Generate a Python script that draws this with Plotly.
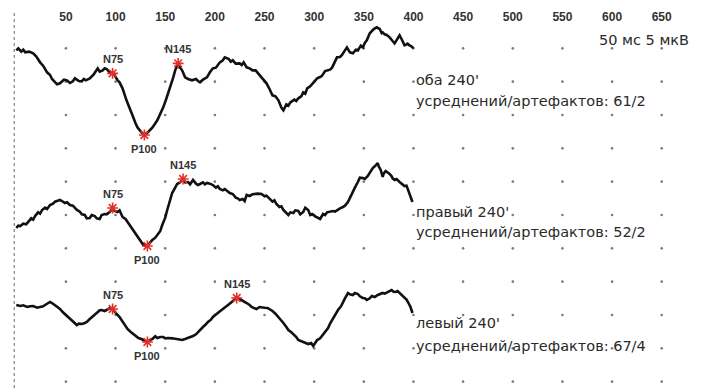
import plotly.graph_objects as go

# Time axis (ms) and amplitude grid (µV), negative polarity drawn upward
tick_ms = [50, 100, 150, 200, 250, 300, 350, 400, 450, 500, 550, 600, 650]
grid_rows_uv = [5, 10, 15, 20, 25, 30, 35, 40, 45, 50, 55]

# Trace 1: оба 240'
t1_ms = [0, 2, 5, 7, 9, 13, 17, 20, 24, 27, 31, 34, 36, 39, 41, 44, 46, 48, 51, 54, 57, 59, 61, 63,
         66, 68, 70, 74, 78, 80, 82, 84, 87, 89, 91, 94, 97, 99, 102, 104, 107, 111, 114, 117, 120,
         122, 126, 129, 133, 137, 142, 145, 148, 151, 155, 158, 160, 163, 165, 167, 170, 173, 177,
         181, 183, 185, 188, 192, 195, 198, 201, 205, 208, 210, 214, 216, 218, 221, 225, 227, 229,
         232, 235, 238, 241, 245, 248, 252, 255, 258, 261, 264, 267, 269, 272, 274, 276, 280, 282,
         284, 287, 289, 291, 293, 296, 298, 301, 303, 306, 308, 311, 313, 316, 318, 321, 323, 326,
         328, 331, 333, 336, 339, 342, 344, 347, 349, 351, 353, 356, 358, 360, 363, 366, 368, 369,
         371, 373, 376, 378, 379, 381, 384, 386, 388, 389, 391, 393, 394, 396, 398, 400]
t1_uv = [0.3, 0.0, 0.5, 0.2, 0.6, 0.5, 0.75, 1.2, 2.1, 2.6, 3.6, 4.0, 4.6, 5.1, 5.4, 5.25, 4.9, 4.7,
         4.8, 5.2, 4.95, 4.5, 4.7, 4.9, 4.95, 4.6, 4.8, 4.5, 3.9, 3.4, 3.0, 3.5, 3.3, 3.0, 3.1, 3.6,
         3.75, 4.0, 4.8, 5.1, 6.0, 7.8, 8.8, 10.05, 11.2, 11.85, 12.6, 13.0, 12.5, 11.9, 10.8, 9.9,
         8.85, 7.6, 5.85, 4.4, 3.3, 2.25, 2.9, 3.3, 4.35, 4.6, 4.8, 4.6, 4.9, 5.1, 4.7, 4.35, 3.6,
         3.0, 2.9, 2.1, 1.8, 1.35, 1.6, 2.0, 1.8, 2.3, 2.25, 2.5, 2.1, 2.85, 3.0, 3.3, 3.3, 4.05,
         4.6, 5.25, 6.1, 7.05, 7.2, 7.8, 8.9, 9.3, 8.4, 8.6, 8.1, 7.7, 7.9, 7.5, 7.2, 6.6, 6.8, 6.0,
         5.7, 5.4, 4.8, 4.5, 4.3, 4.1, 3.4, 3.3, 3.2, 2.9, 2.0, 1.35, 1.3, 1.0, 0.3, -0.15, 0.6,
         0.75, 0.2, 0.3, -0.4, -0.15, -0.8, -1.2, -2.25, -2.6, -2.9, -3.15, -2.9, -2.3, -2.4, -2.1,
         -2.0, -1.65, -1.2, -1.1, -0.75, -1.5, -1.95, -1.4, -1.1, -0.45, -0.6, -0.7, -0.45, -0.3,
         0.0]

# Trace 2: правый 240'
t2_ms = [0, 2, 4, 7, 10, 12, 15, 17, 19, 22, 24, 26, 29, 31, 34, 37, 39, 41, 44, 46, 49, 51, 54,
         57, 59, 61, 64, 66, 69, 71, 74, 76, 79, 81, 84, 86, 89, 91, 94, 97, 99, 102, 104, 107, 110,
         112, 115, 118, 120, 123, 126, 128, 132, 135, 137, 140, 142, 145, 147, 150, 152, 155, 157,
         160, 162, 165, 168, 170, 173, 175, 178, 181, 183, 185, 188, 190, 192, 195, 198, 201, 203,
         205, 208, 210, 212, 215, 218, 221, 223, 225, 228, 230, 232, 235, 238, 240, 243, 247, 250,
         252, 255, 258, 260, 262, 265, 267, 269, 271, 274, 276, 279, 281, 284, 286, 289, 291, 294,
         296, 298, 301, 304, 306, 309, 311, 313, 316, 319, 321, 323, 326, 329, 331, 334, 336, 339,
         341, 344, 346, 349, 351, 354, 356, 359, 361, 364, 365, 367, 369, 370, 372, 374, 376, 378,
         379, 381, 383, 386, 388, 391, 393, 396, 398, 399]
t2_uv = [6.95, 6.6, 6.65, 6.3, 6.4, 6.05, 5.5, 5.7, 5.15, 4.6, 4.8, 4.25, 3.9, 4.1, 3.5, 3.3, 3.0,
         2.9, 2.75, 2.9, 3.2, 3.1, 3.5, 3.6, 4.0, 4.25, 4.5, 4.9, 5.0, 5.5, 5.45, 5.0, 5.15, 5.5,
         5.6, 5.0, 4.85, 4.9, 4.55, 3.95, 4.4, 4.55, 4.3, 5.3, 5.6, 6.05, 6.7, 7.25, 7.9, 8.45, 9.1,
         9.5, 9.65, 9.0, 8.75, 8.4, 8.0, 7.4, 6.5, 5.4, 4.25, 2.9, 1.7, 0.9, 0.35, 0.1, -0.4, 0.1,
         0.05, 0.4, -0.25, 0.3, 0.5, 0.35, 0.1, 0.4, 0.2, 0.3, 0.5, 0.9, 0.7, 1.1, 1.3, 1.1, 1.4,
         1.7, 1.85, 2.4, 2.5, 2.75, 2.6, 2.9, 2.0, 2.15, 1.9, 1.85, 1.8, 1.85, 2.2, 2.1, 2.6, 3.0,
         2.8, 3.35, 3.8, 3.7, 4.25, 4.6, 5.0, 4.6, 4.7, 4.3, 4.4, 4.9, 4.55, 3.9, 4.25, 5.0, 4.85,
         5.2, 5.45, 5.6, 4.85, 5.0, 4.6, 4.55, 4.4, 4.5, 4.25, 4.0, 3.8, 3.6, 3.05, 2.5, 1.55, 0.9,
         0.05, -0.6, -0.55, -0.4, -0.85, -1.4, -2.05, -2.3, -2.8, -2.3, -1.75, -0.7, -1.2, -1.6,
         -1.4, -1.15, -0.8, -0.5, -0.25, -0.4, 0.05, 0.3, 0.65, 0.6, 1.85, 2.4, 3.05]

# Trace 3: левый 240'
t3_ms = [0, 4, 7, 11, 14, 17, 21, 24, 27, 29, 32, 34, 36, 39, 41, 44, 47, 51, 54, 56, 59, 61, 63,
         66, 69, 71, 74, 76, 79, 81, 84, 86, 89, 91, 94, 97, 99, 102, 104, 107, 110, 112, 115, 118,
         120, 123, 126, 128, 132, 135, 137, 140, 142, 145, 148, 150, 153, 157, 160, 164, 167, 170,
         173, 176, 178, 181, 183, 186, 188, 191, 193, 196, 198, 202, 205, 208, 212, 215, 218, 220,
         222, 225, 227, 230, 232, 235, 237, 240, 242, 245, 248, 250, 253, 255, 258, 261, 264, 266,
         269, 272, 274, 277, 279, 282, 284, 287, 289, 292, 294, 297, 299, 301, 303, 306, 308, 311,
         314, 316, 319, 321, 324, 327, 329, 331, 334, 336, 339, 341, 344, 346, 349, 351, 353, 356,
         358, 361, 364, 366, 369, 371, 374, 376, 378, 380, 382, 384, 386, 388, 390, 393, 395, 397,
         399]
t3_uv = [3.5, 3.65, 3.55, 3.8, 3.7, 3.65, 3.9, 3.8, 3.7, 3.5, 3.2, 3.05, 3.2, 3.5, 3.7, 4.1, 4.6,
         5.15, 5.6, 5.9, 6.3, 6.5, 6.3, 6.35, 6.2, 6.05, 5.6, 5.3, 4.9, 4.7, 4.3, 4.25, 4.4, 4.25,
         4.0, 4.1, 4.5, 5.0, 5.3, 6.05, 6.6, 7.1, 7.5, 7.85, 8.2, 8.45, 8.6, 8.75, 9.05, 8.7, 8.6,
         8.2, 8.45, 8.3, 8.3, 8.5, 8.45, 8.5, 8.6, 8.7, 8.75, 8.6, 8.45, 8.3, 8.15, 7.9, 7.55, 7.1,
         6.8, 6.4, 6.05, 5.7, 5.3, 4.8, 4.4, 4.1, 3.65, 3.3, 2.9, 2.7, 2.45, 2.6, 2.75, 3.0, 3.2,
         3.5, 3.8, 4.0, 4.1, 3.8, 3.8, 3.9, 3.95, 4.1, 4.4, 4.8, 5.3, 5.7, 6.2, 6.8, 7.25, 7.6,
         7.85, 8.3, 8.75, 8.9, 9.05, 9.2, 9.35, 9.2, 9.65, 9.2, 8.75, 8.5, 8.15, 7.6, 6.95, 6.3,
         5.45, 4.9, 4.25, 3.7, 3.2, 2.5, 1.7, 1.9, 2.0, 1.7, 1.85, 2.2, 2.45, 2.5, 2.75, 2.5, 2.15,
         2.3, 2.0, 1.9, 1.7, 1.8, 1.55, 1.3, 1.25, 1.5, 1.55, 1.4, 1.7, 1.9, 2.3, 2.7, 3.2, 3.8,
         4.7]

peak_names = ["N75", "P100", "N145"]
t1_peak_ms = [97, 129, 163]
t1_peak_uv = [3.75, 13.0, 2.25]
t2_peak_ms = [97, 132, 168]
t2_peak_uv = [3.95, 9.65, -0.4]
t3_peak_ms = [97, 132, 222]
t3_peak_uv = [4.1, 9.05, 2.45]

trace_offsets = [5, 25, 40]
captions = ["оба 240'", "правый 240'", "левый 240'"]
avg_artifacts = ["61/2", "52/2", "67/4"]

traces = [
    (t1_ms, t1_uv, t1_peak_ms, t1_peak_uv),
    (t2_ms, t2_uv, t2_peak_ms, t2_peak_uv),
    (t3_ms, t3_uv, t3_peak_ms, t3_peak_uv),
]

fig = go.Figure()

# dotted grid at every 50 ms / 5 µV intersection
gx, gy = [], []
for r in grid_rows_uv:
    for t in tick_ms:
        gx.append(t)
        gy.append(r)
fig.add_trace(go.Scatter(x=gx, y=gy, mode="markers",
                         marker=dict(size=2.6, color="#7a7a7a"),
                         hoverinfo="skip", showlegend=False))

label_font = dict(family="Liberation Sans", size=11, color="#333333", weight="bold")
text_font = dict(family="DejaVu Sans", size=14.5, color="#2a2a2a")

annotations = []
for k, (ms, uv, pms, puv) in enumerate(traces):
    off = trace_offsets[k]
    fig.add_trace(go.Scatter(x=ms, y=[v + off for v in uv], mode="lines",
                             line=dict(color="#111111", width=2.6),
                             hoverinfo="skip", showlegend=False))
    fig.add_trace(go.Scatter(x=pms, y=[v + off for v in puv], mode="markers",
                             marker=dict(symbol="asterisk-open", size=9, color="#e0302a",
                                         line=dict(color="#e0302a", width=1.6)),
                             hoverinfo="skip", showlegend=False))
    for name, t, v in zip(peak_names, pms, puv):
        up = name.startswith("N")
        annotations.append(dict(x=t, y=v + off, text=name, showarrow=False,
                                yshift=14 if up else -14, font=label_font))

# caption text beside each trace
caption_rows = [(9.75, 12.9), (29.55, 32.6), (46.2, 49.6)]
for k in range(3):
    r1, r2 = caption_rows[k]
    annotations.append(dict(x=401, y=r1, text=captions[k], showarrow=False,
                            xanchor="left", font=text_font))
    annotations.append(dict(x=401, y=r2, text="усреднений/артефактов: " + avg_artifacts[k],
                            showarrow=False, xanchor="left", font=text_font))

annotations.append(dict(x=679, y=3.75, text="50 мс 5 мкВ", showarrow=False,
                        xanchor="right", font=text_font))

fig.add_shape(type="line", x0=-2, x1=-2, y0=-0.3, y1=56, xref="x", yref="y",
              line=dict(color="#8a8a8a", width=1.3, dash="dot"))

fig.update_layout(
    width=706, height=388,
    margin=dict(l=0, r=0, t=0, b=0),
    paper_bgcolor="white", plot_bgcolor="white",
    annotations=annotations,
    xaxis=dict(range=[-16.4, 694.6], side="top", tickvals=tick_ms,
               ticktext=[str(t) for t in tick_ms], ticklabelposition="inside",
               ticklabelstandoff=10, ticks="", showgrid=False, zeroline=False,
               showline=False,
               tickfont=dict(family="Liberation Sans", size=12, color="#333333",
                             weight="bold")),
    yaxis=dict(range=[55.95, -2.25], showgrid=False, zeroline=False,
               showticklabels=False, ticks="", showline=False),
)

fig.write_html("out.html")
